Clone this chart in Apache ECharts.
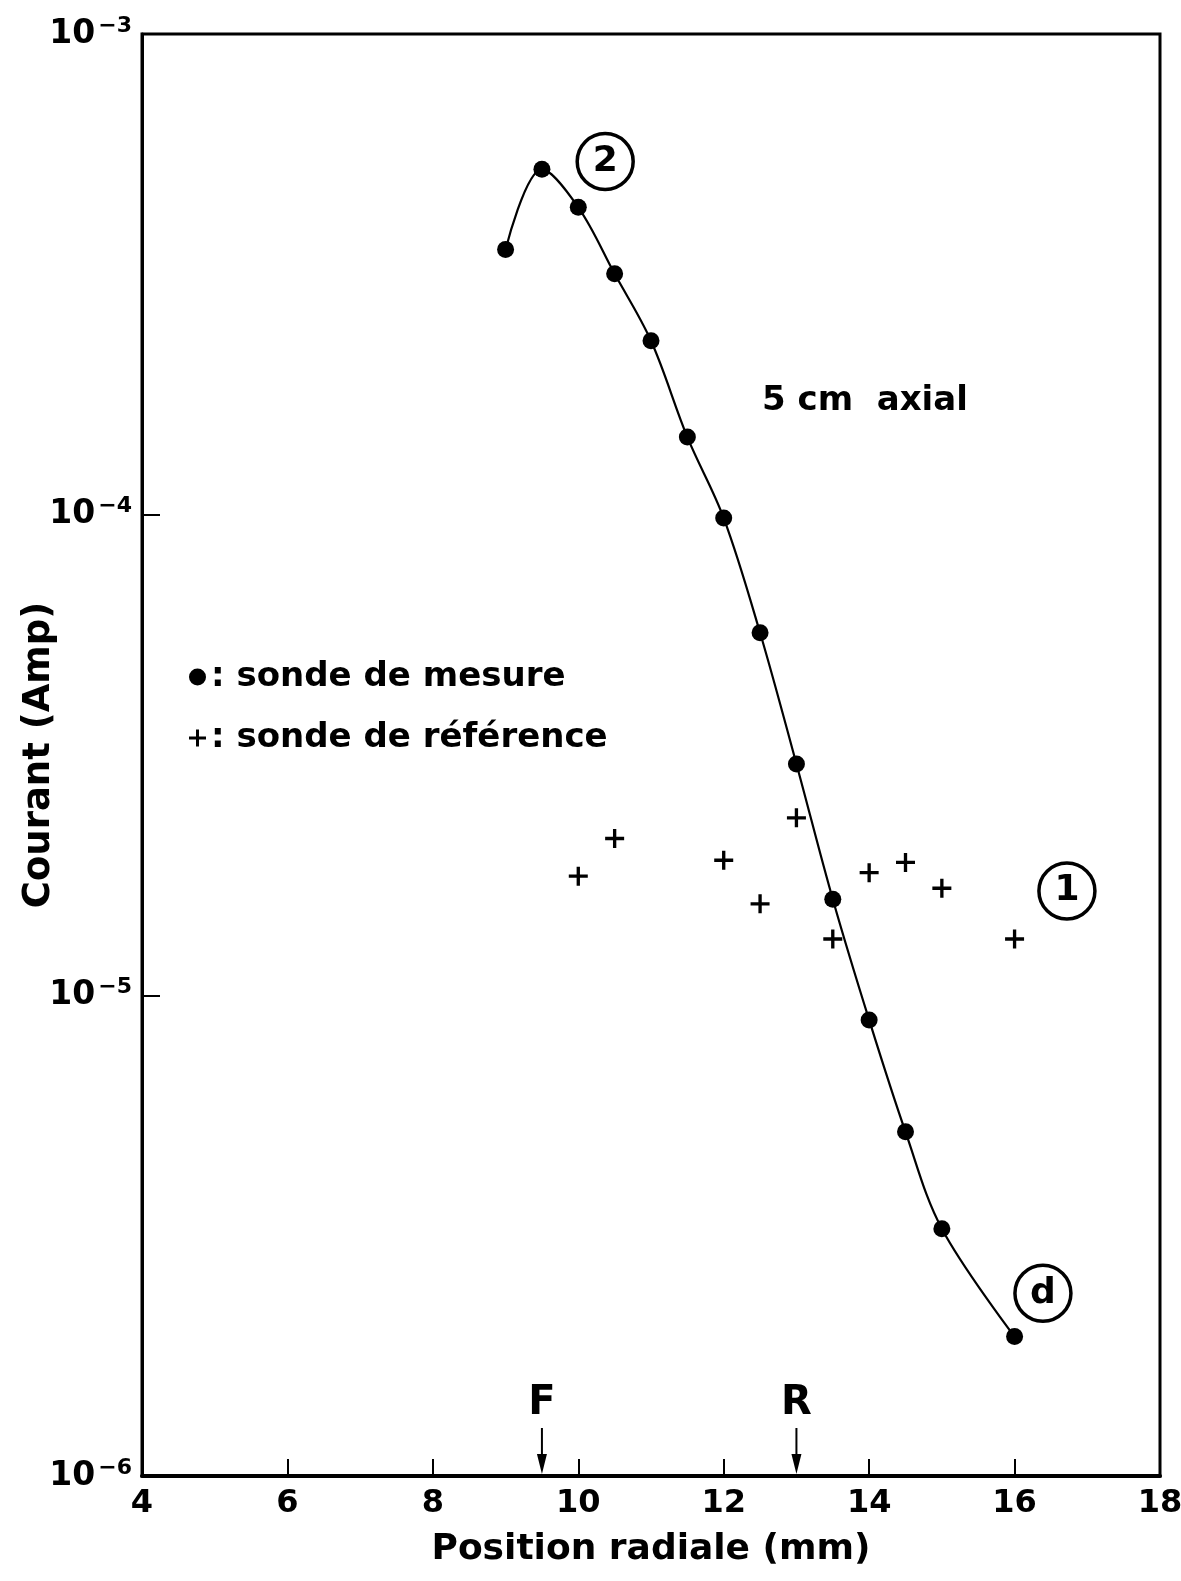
<!DOCTYPE html>
<html>
<head>
<meta charset="utf-8">
<script src="https://cdn.jsdelivr.net/npm/echarts@6/dist/echarts.min.js"></script>
<style>
html,body{margin:0;padding:0;background:#fff;}
#chart{width:1181px;height:1581px;}
</style>
</head>
<body>
<div id="chart"></div>
<script>
// ---- data ----
const mesureX = [9, 9.5, 10, 10.5, 11, 11.5, 12, 12.5, 13, 13.5, 14, 14.5, 15, 16];
const mesureY = [3.56e-4, 5.23e-4, 4.36e-4, 3.17e-4, 2.30e-4, 1.45e-4, 9.84e-5, 5.68e-5, 3.03e-5, 1.585e-5, 8.89e-6, 5.20e-6, 3.27e-6, 1.95e-6];
const refX = [10, 10.5, 12, 12.5, 13, 13.5, 14, 14.5, 15, 16];
const refY = [1.77e-5, 2.12e-5, 1.91e-5, 1.55e-5, 2.34e-5, 1.31e-5, 1.80e-5, 1.89e-5, 1.67e-5, 1.31e-5];
const xTicks = [4, 6, 8, 10, 12, 14, 16, 18];
const yTickExps = [-6, -5, -4, -3];
const arrowX = [9.5, 13];
const arrowLabels = ['F', 'R'];
const circleLabels = ['2', '1', 'd'];
const circleX = [10.37, 16.72, 16.39];
const circleY = [5.43e-4, 1.648e-5, 2.40e-6];

const FONT = 'DejaVu Sans';
const plusPath = 'path://M8,0h3.4v8h8v3.4h-8v8h-3.4v-8h-8v-3.4h8z';

const chart = echarts.init(document.getElementById('chart'));

const option = {
  backgroundColor: '#fff',
  animation: false,
  textStyle: { fontFamily: FONT, color: '#000' },
  grid: {
    left: 142, right: 21, top: 34, bottom: 105,
    show: true, borderColor: '#000', borderWidth: 3,
    containLabel: false, outerBoundsMode: 'none'
  },
  legend: {
    orient: 'vertical',
    left: 184, top: 655,
    itemWidth: 17, itemHeight: 17, itemGap: 27,
    data: [
      { name: 'sonde de mesure', icon: 'circle' },
      { name: 'sonde de référence', icon: plusPath }
    ],
    formatter: function (n) { return ': ' + n; },
    textStyle: { fontFamily: FONT, fontSize: 34, fontWeight: 'bold', color: '#000' },
    itemStyle: { color: '#000', opacity: 1 }
  },
  xAxis: {
    type: 'value', min: 4, max: 18, interval: 2,
    name: 'Position radiale (mm)', nameLocation: 'middle', nameGap: 56,
    nameMoveOverlap: false,
    nameTextStyle: { fontFamily: FONT, fontSize: 36, fontWeight: 'bold', color: '#000' },
    axisLine: { lineStyle: { color: '#000', width: 4 } },
    axisTick: { show: true, inside: true, length: 17, lineStyle: { color: '#000', width: 2 } },
    axisLabel: {
      fontFamily: FONT, fontSize: 32, fontWeight: 'bold', color: '#000', margin: 12,
      formatter: function (v) { return xTicks.indexOf(v) >= 0 ? String(v) : ''; }
    },
    splitLine: { show: false }
  },
  yAxis: {
    type: 'log', logBase: 10, min: 1e-6, max: 1e-3,
    name: 'Courant (Amp)', nameLocation: 'middle', nameGap: 84,
    nameMoveOverlap: false,
    nameTextStyle: { fontFamily: FONT, fontSize: 37, fontWeight: 'bold', color: '#000' },
    axisLine: { lineStyle: { color: '#000', width: 3 } },
    axisTick: { show: true, inside: true, length: 18, lineStyle: { color: '#000', width: 2 } },
    minorTick: { show: false },
    axisLabel: {
      margin: 10,
      formatter: function (v) {
        const e = Math.round(Math.log10(v));
        if (yTickExps.indexOf(e) < 0) return '';
        return '{b|10}{s|' + String(e).replace('-', '−') + '}';
      },
      rich: {
        b: { fontFamily: FONT, fontSize: 33, fontWeight: 'bold', color: '#000' },
        s: { fontFamily: FONT, fontSize: 22, fontWeight: 'bold', color: '#000', verticalAlign: 'top', padding: [0, 0, 16, 3] }
      }
    },
    splitLine: { show: false }
  },
  series: [
    {
      name: 'sonde de mesure',
      type: 'line',
      data: mesureX.map((x, i) => [x, mesureY[i]]),
      smooth: 0.35,
      symbol: 'circle', symbolSize: 17,
      itemStyle: { color: '#000', opacity: 1 },
      lineStyle: { color: '#000', width: 2.2 },
      markPoint: {
        symbol: 'circle', symbolSize: 56,
        itemStyle: { color: 'rgba(255,255,255,0)', borderColor: '#000', borderWidth: 3.5 },
        label: { show: true, position: 'inside', color: '#000', fontFamily: FONT, fontSize: 36, fontWeight: 'bold', formatter: function (p) { return p.name; } },
        data: circleLabels.map((l, i) => ({ name: l, coord: [circleX[i], circleY[i]] }))
      },
      z: 3
    },
    {
      name: 'sonde de référence',
      type: 'scatter',
      data: refX.map((x, i) => [x, refY[i]]),
      symbol: plusPath, symbolSize: 19,
      itemStyle: { color: '#000', opacity: 1 },
      z: 3
    },
    {
      type: 'custom',
      name: 'arrows',
      data: arrowX.map((x, i) => [x, 1e-6, i]),
      clip: false,
      renderItem: function (params, api) {
        const p = api.coord([api.value(0), api.value(1)]);
        const lbl = arrowLabels[api.value(2)];
        return {
          type: 'group',
          children: [
            { type: 'text', style: { text: lbl, x: p[0], y: p[1] - 72, align: 'center', verticalAlign: 'middle', fontFamily: FONT, fontSize: 40, fontWeight: 'bold', fill: '#000' } },
            { type: 'line', shape: { x1: p[0], y1: p[1] - 48, x2: p[0], y2: p[1] - 14 }, style: { stroke: '#000', lineWidth: 2 } },
            { type: 'polygon', shape: { points: [[p[0] - 5, p[1] - 22], [p[0] + 5, p[1] - 22], [p[0], p[1] - 2]] }, style: { fill: '#000' } }
          ]
        };
      },
      silent: true,
      z: 4
    }
  ],
  graphic: [
    { type: 'text', left: 762, top: 384, style: { text: '5 cm  axial', fontFamily: FONT, fontSize: 34, fontWeight: 'bold', fill: '#000' } }
  ]
};

chart.setOption(option);
</script>
</body>
</html>
